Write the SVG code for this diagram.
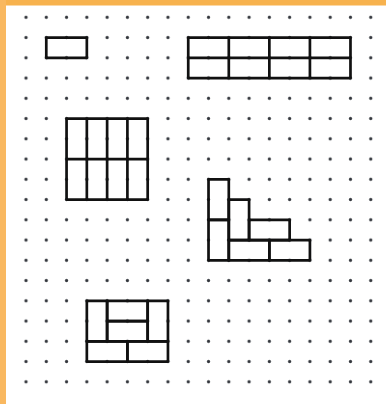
<svg xmlns="http://www.w3.org/2000/svg" width="386" height="404" viewBox="0 0 386 404">
<style>
.p{fill:none;stroke:#111111;stroke-width:2.7;stroke-linejoin:round}
</style>
<defs>
<pattern id="dots" patternUnits="userSpaceOnUse" x="15.86" y="7.175" width="20.28" height="20.25">
<circle cx="10.14" cy="10.125" r="1.6" fill="#33363c"/>
</pattern>
</defs>
<rect width="386" height="404" fill="#ffffff"/>
<rect x="0" y="0" width="386" height="5.5" fill="#f7b24e"/>
<rect x="0" y="0" width="6" height="404" fill="#f9b860"/>
<rect x="15.86" y="7.175" width="365.04" height="384.75" fill="url(#dots)"/>
<g id="shape1">
<rect class="p" x="46.28" y="37.55" width="40.56" height="20.25"/>
</g>
<g id="shape2">
<rect class="p" x="188.24" y="37.55" width="162.24" height="40.5"/>
<line class="p" x1="188.24" y1="57.8" x2="350.48" y2="57.8"/>
<line class="p" x1="228.8" y1="37.55" x2="228.8" y2="78.05"/>
<line class="p" x1="269.36" y1="37.55" x2="269.36" y2="78.05"/>
<line class="p" x1="309.92" y1="37.55" x2="309.92" y2="78.05"/>
</g>
<g id="shape3">
<rect class="p" x="66.56" y="118.55" width="81.12" height="81"/>
<line class="p" x1="66.56" y1="159.05" x2="147.68" y2="159.05"/>
<line class="p" x1="86.84" y1="118.55" x2="86.84" y2="199.55"/>
<line class="p" x1="107.12" y1="118.55" x2="107.12" y2="199.55"/>
<line class="p" x1="127.4" y1="118.55" x2="127.4" y2="199.55"/>
</g>
<g id="shape4">
<rect class="p" x="208.52" y="179.3" width="20.28" height="40.5"/>
<rect class="p" x="208.52" y="219.8" width="20.28" height="40.5"/>
<rect class="p" x="228.8" y="199.55" width="20.28" height="40.5"/>
<rect class="p" x="249.08" y="219.8" width="40.56" height="20.25"/>
<rect class="p" x="228.8" y="240.05" width="40.56" height="20.25"/>
<rect class="p" x="269.36" y="240.05" width="40.56" height="20.25"/>
</g>
<g id="shape5">
<rect class="p" x="86.84" y="300.8" width="20.28" height="40.5"/>
<rect class="p" x="147.68" y="300.8" width="20.28" height="40.5"/>
<rect class="p" x="107.12" y="300.8" width="40.56" height="20.25"/>
<rect class="p" x="107.12" y="321.05" width="40.56" height="20.25"/>
<rect class="p" x="86.84" y="341.3" width="40.56" height="20.25"/>
<rect class="p" x="127.4" y="341.3" width="40.56" height="20.25"/>
</g>
</svg>
